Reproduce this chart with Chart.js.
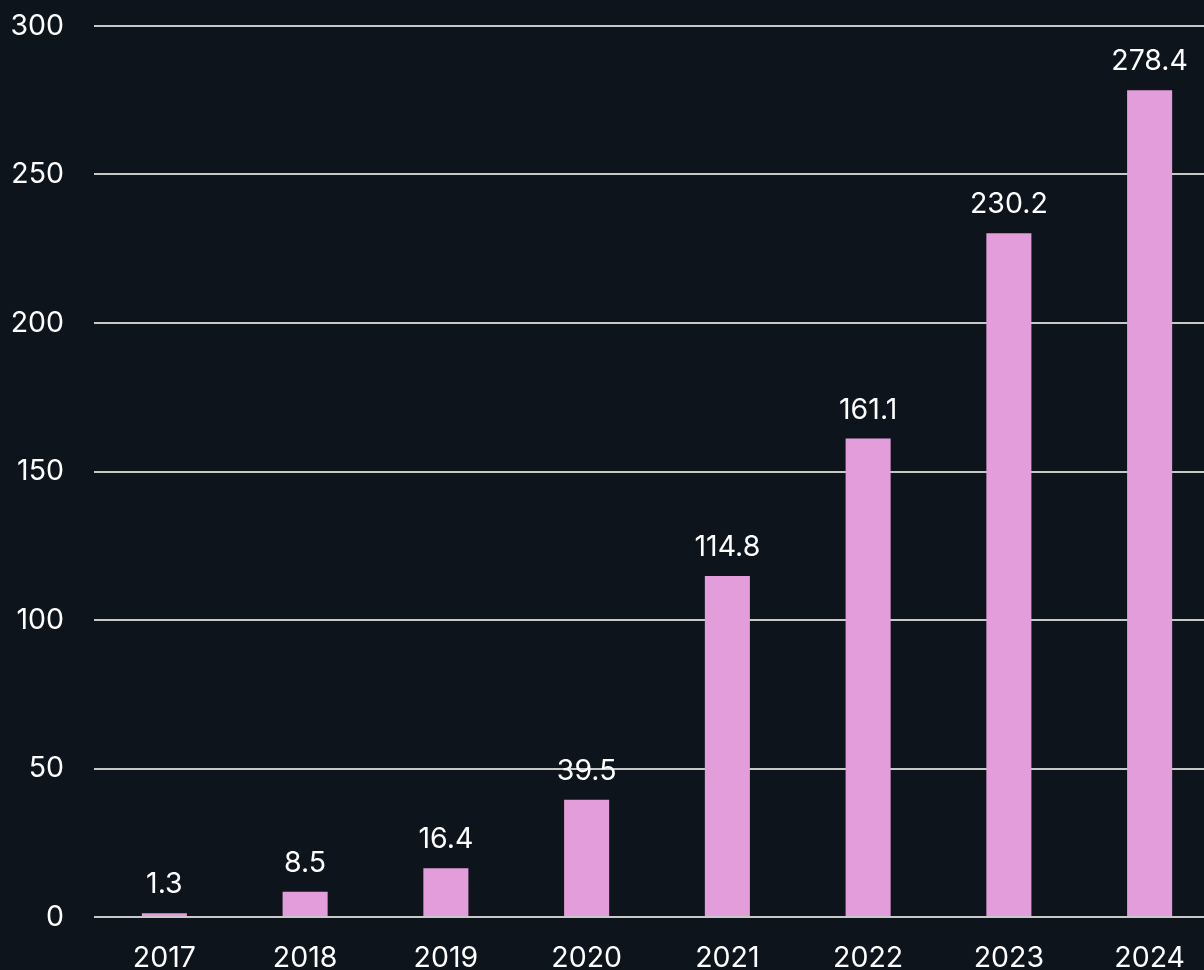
<!DOCTYPE html>
<html>
<head>
<meta charset="utf-8">
<script src="https://cdn.jsdelivr.net/npm/chart.js@4"></script>
<style>
html, body { margin: 0; padding: 0; background: #0d141c; overflow: hidden; width: 1204px; height: 970px; }
#wrap { position: absolute; left: 0; top: 0; width: 1220px; height: 990px; }
</style>
</head>
<body>
<div id="wrap"><canvas id="c" width="1220" height="990"></canvas></div>
<script>
const years = ['2017', '2018', '2019', '2020', '2021', '2022', '2023', '2024'];
const values = [1.3, 8.5, 16.4, 39.5, 114.8, 161.1, 230.2, 278.4];
const yTicks = [0, 50, 100, 150, 200, 250, 300];

const FONT = 'Inter, "DejaVu Sans", sans-serif';
const FSIZE = 28.5;

const valueLabels = {
  id: 'valueLabels',
  afterDatasetsDraw(chart) {
    const ctx = chart.ctx;
    const meta = chart.getDatasetMeta(0);
    ctx.save();
    ctx.font = '400 ' + FSIZE + 'px ' + FONT;
    ctx.fillStyle = '#ffffff';
    ctx.textAlign = 'center';
    ctx.textBaseline = 'alphabetic';
    meta.data.forEach((bar, i) => {
      ctx.fillText(String(values[i]), bar.x, bar.y - 20);
    });
    ctx.restore();
  }
};

new Chart(document.getElementById('c'), {
  type: 'bar',
  data: {
    labels: years,
    datasets: [{
      data: values,
      backgroundColor: '#e39ddb',
      borderWidth: 0,
      barPercentage: 0.32,
      categoryPercentage: 1.0
    }]
  },
  options: {
    responsive: false,
    animation: false,
    devicePixelRatio: 1,
    layout: { padding: { top: 26, left: 0, right: 0, bottom: 0 } },
    plugins: { legend: { display: false }, tooltip: { enabled: false } },
    scales: {
      x: {
        grid: { display: false, drawTicks: false },
        border: { display: false },
        ticks: { color: '#ffffff', font: { family: FONT, size: FSIZE }, padding: 24, maxRotation: 0 },
        afterFit(s) { s.height = 73; }
      },
      y: {
        min: 0,
        max: 300,
        afterBuildTicks(s) { s.ticks = yTicks.map(v => ({ value: v })); },
        grid: { color: '#c8c8c8', lineWidth: 2, drawTicks: false },
        border: { display: false },
        ticks: { color: '#ffffff', font: { family: FONT, size: FSIZE }, padding: 30 },
        afterFit(s) { s.width = 94; s.paddingTop = 0; s.paddingBottom = 0; }
      }
    }
  },
  plugins: [valueLabels]
});
</script>
</body>
</html>
